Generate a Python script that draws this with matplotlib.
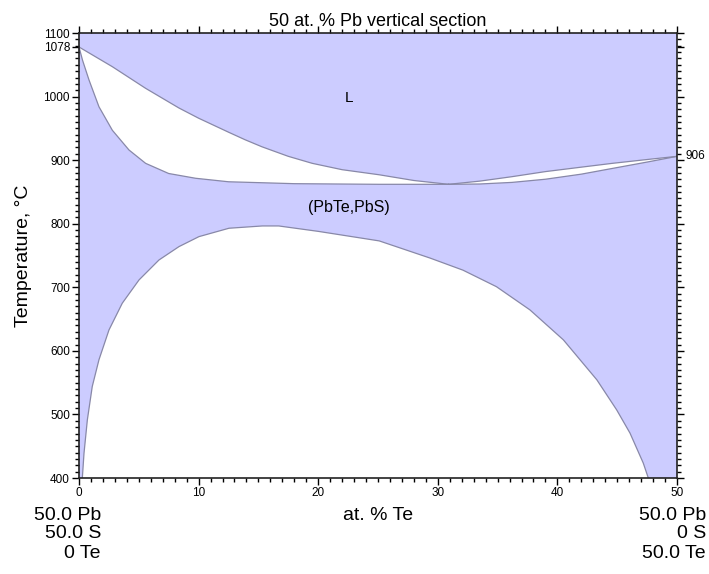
import numpy as np
import matplotlib
matplotlib.use("Agg")
import matplotlib.pyplot as plt
from matplotlib.ticker import MultipleLocator

plt.rcParams['font.family'] = ['Liberation Sans', 'DejaVu Sans']

# liquidus, left branch (0 -> minimum)
liq_x = [0, 2.79, 5.57, 8.36, 10.0, 12.5, 13.9, 15.3, 17.5, 19.5, 22.0, 25.1, 28.0, 30.9]
liq_T = [1078, 1047, 1013, 982, 966, 944, 932, 921, 906, 895, 885, 877, 868, 862]
# solidus, left branch
sol_x = [0, 0.3, 0.84, 1.67, 2.79, 4.18, 5.57, 7.5, 9.75, 12.5, 18.0, 25.1, 30.9]
sol_T = [1078, 1057, 1026, 984, 947, 916, 895, 879, 871.5, 866, 863, 862, 862]
# right lens (minimum -> PbTe)
liq2_x = [30.9, 33.5, 36.2, 39.0, 42.0, 44.6, 47.5, 50]
liq2_T = [862, 867, 874, 882, 889, 895, 901, 906]
sol2_x = [30.9, 33.5, 36.2, 39.0, 42.0, 44.6, 47.5, 50]
sol2_T = [862, 862.5, 865, 870, 878, 887, 897, 906]
# miscibility gap
gap_x = [0.28, 0.42, 0.70, 1.11, 1.67, 2.51, 3.62, 5.02, 6.69, 8.36, 10.03,
         12.54, 15.33, 16.7, 20.0, 25.1, 29.35, 32.1, 34.9, 37.7, 40.5,
         43.3, 44.96, 46.07, 47.18, 47.6]
gap_T = [400, 439, 491.5, 544, 586, 633, 675, 711.6, 743, 764, 779.7,
         792.9, 796.5, 796.5, 788, 773, 746, 727, 701, 664.5, 617.3,
         554.4, 507, 470.6, 423.4, 400]

# compositions at both ends of the section
left_comp = ['50.0 Pb', '50.0 S', '0 Te']
right_comp = ['50.0 Pb', '0 S', '50.0 Te']

fill_col = '#ccccff'
line_col = '#8888a8'

fig = plt.figure(figsize=(7.09, 5.74), dpi=100)
ax = fig.add_axes([0.1114, 0.1672, 0.8435, 0.7753])
ax.set_facecolor(fill_col)

# white two-phase regions
ax.fill(liq_x + sol_x[::-1], liq_T + sol_T[::-1], color='white', lw=0)
ax.fill(liq2_x + sol2_x[::-1], liq2_T + sol2_T[::-1], color='white', lw=0)
ax.fill(gap_x, gap_T, color='white', lw=0)

for xs, ts in [(liq_x, liq_T), (sol_x, sol_T), (liq2_x, liq2_T),
               (sol2_x, sol2_T), (gap_x, gap_T)]:
    ax.plot(xs, ts, color=line_col, lw=0.9, solid_joinstyle='round')

ax.set_xlim(0, 50)
ax.set_ylim(400, 1100)

ax.xaxis.set_major_locator(MultipleLocator(10))
ax.xaxis.set_minor_locator(MultipleLocator(1))
ax.set_yticks([400, 500, 600, 700, 800, 900, 1000, 1078, 1100])
ax.yaxis.set_minor_locator(MultipleLocator(10))
ax.tick_params(which='both', direction='out', top=True, right=True,
               labelsize=8.5, pad=1.5, width=1)
ax.tick_params(which='major', length=5)
ax.tick_params(which='minor', length=3)
for s in ax.spines.values():
    s.set_linewidth(1.2)
    s.set_color('#222222')

ax.text(50.7, 906, '906', fontsize=8.5, va='center', ha='left')

ax.set_title('50 at. % Pb vertical section', fontsize=13, pad=5)
ax.set_ylabel('Temperature, °C', fontsize=14, labelpad=8)

ax.text(22.6, 997, 'L', fontsize=11, ha='center', va='center')
ax.text(22.6, 825, '(PbTe,PbS)', fontsize=11.5, ha='center', va='center')

# composition labels at the axis ends
rows_y = [515, 534, 553]
for lbl, py in zip(left_comp, rows_y):
    fig.text(101 / 709, 1 - py / 574, lbl, ha='right', va='center', fontsize=14)
for lbl, py in zip(right_comp, rows_y):
    fig.text(706 / 709, 1 - py / 574, lbl, ha='right', va='center', fontsize=14)
fig.text(378 / 709, 1 - 515 / 574, 'at. % Te', ha='center', va='center',
         fontsize=14)

fig.savefig('out.png', dpi=100)
